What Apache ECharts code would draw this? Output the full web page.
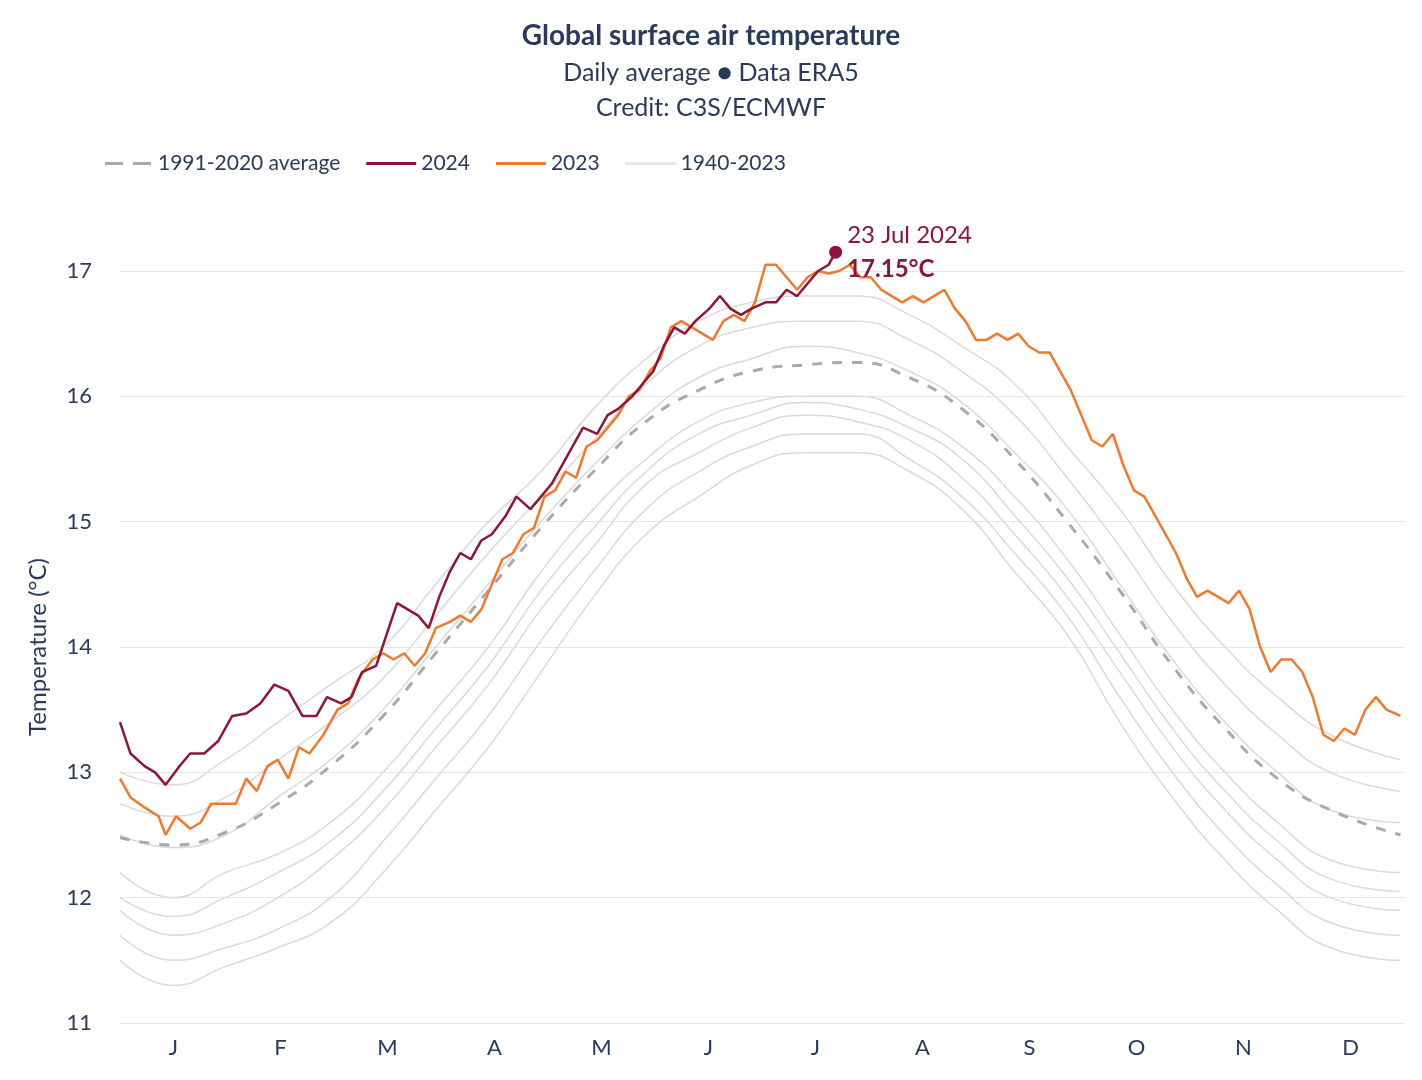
<!DOCTYPE html>
<html><head><meta charset="utf-8">
<script src="https://cdn.jsdelivr.net/npm/echarts@6/dist/echarts.min.js"></script>
<style>html,body{margin:0;padding:0;background:#fff}#c{width:1422px;height:1080px}</style>
</head><body><div id="c"></div>
<script>
const months = ['J','F','M','A','M','J','J','A','S','O','N','D'];
const yTicks = [11,12,13,14,15,16,17];
// [day of year, °C]
const y2024 = [[0,13.4],[3,13.15],[7,13.05],[10,13.0],[13,12.9],[17,13.05],[20,13.15],[24,13.15],[28,13.25],[32,13.45],[36,13.47],[40,13.55],[44,13.7],[48,13.65],[52,13.45],[56,13.45],[59,13.6],[63,13.55],[66,13.6],[69,13.8],[73,13.85],[76,14.1],[79,14.35],[82,14.3],[85,14.25],[88,14.15],[91,14.4],[94,14.6],[97,14.75],[100,14.7],[103,14.85],[106,14.9],[110,15.05],[113,15.2],[117,15.1],[120,15.2],[123,15.3],[126,15.45],[129,15.6],[132,15.75],[136,15.7],[139,15.85],[142,15.9],[146,16.0],[149,16.1],[152,16.2],[155,16.4],[158,16.55],[161,16.5],[164,16.6],[168,16.7],[171,16.8],[174,16.7],[177,16.65],[180,16.7],[184,16.75],[187,16.75],[190,16.85],[193,16.8],[196,16.9],[199,17.0],[202,17.05],[204,17.15]];
const y2023 = [[0,12.95],[3,12.8],[7,12.72],[11,12.65],[13,12.5],[16,12.65],[20,12.55],[23,12.6],[26,12.75],[30,12.75],[33,12.75],[36,12.95],[39,12.85],[42,13.05],[45,13.1],[48,12.95],[51,13.2],[54,13.15],[58,13.3],[62,13.5],[65,13.55],[68,13.75],[72,13.9],[75,13.95],[78,13.9],[81,13.95],[84,13.85],[87,13.95],[90,14.15],[94,14.2],[97,14.25],[100,14.2],[103,14.3],[106,14.5],[109,14.7],[112,14.75],[115,14.9],[118,14.95],[121,15.2],[124,15.25],[127,15.4],[130,15.35],[133,15.6],[136,15.65],[139,15.75],[142,15.85],[145,16.0],[148,16.05],[151,16.2],[154,16.3],[157,16.55],[160,16.6],[163,16.55],[166,16.5],[169,16.45],[172,16.6],[175,16.65],[178,16.6],[181,16.75],[184,17.05],[187,17.05],[190,16.95],[193,16.85],[196,16.95],[199,17.0],[202,16.98],[205,17.0],[208,17.05],[211,16.95],[214,16.95],[217,16.85],[220,16.8],[223,16.75],[226,16.8],[229,16.75],[232,16.8],[235,16.85],[238,16.7],[241,16.6],[244,16.45],[247,16.45],[250,16.5],[253,16.45],[256,16.5],[259,16.4],[262,16.35],[265,16.35],[268,16.2],[271,16.05],[274,15.85],[277,15.65],[280,15.6],[283,15.7],[286,15.45],[289,15.25],[292,15.2],[295,15.05],[298,14.9],[301,14.75],[304,14.55],[307,14.4],[310,14.45],[313,14.4],[316,14.35],[319,14.45],[322,14.3],[325,14.0],[328,13.8],[331,13.9],[334,13.9],[337,13.8],[340,13.6],[343,13.3],[346,13.25],[349,13.35],[352,13.3],[355,13.5],[358,13.6],[361,13.5],[365,13.45]];
const avg = [[0,12.48],[15,12.42],[30,12.52],[45,12.75],[60,13.05],[75,13.45],[90,13.95],[105,14.45],[120,14.95],[135,15.4],[150,15.8],[165,16.05],[180,16.2],[195,16.25],[210,16.27],[225,16.15],[240,15.9],[255,15.5],[270,15.0],[285,14.45],[300,13.85],[315,13.35],[330,12.95],[345,12.7],[365,12.5]];
const days = [0,15,30,45,60,75,90,105,120,135,150,165,180,195,210,225,240,255,270,285,300,315,330,345,365];
const grey1 = [11.5,11.3,11.45,11.6,11.8,12.2,12.7,13.2,13.8,14.4,14.9,15.2,15.45,15.55,15.55,15.4,15.1,14.6,14.1,13.4,12.8,12.3,11.9,11.6,11.5];
const grey2 = [13.0,12.9,13.1,13.4,13.7,14.0,14.5,15.0,15.4,15.9,16.3,16.6,16.75,16.8,16.8,16.65,16.4,16.1,15.6,15.1,14.5,14.0,13.6,13.3,13.1];
const grey3 = [11.9,11.7,11.8,12.0,12.3,12.7,13.2,13.7,14.3,14.8,15.3,15.55,15.75,15.85,15.8,15.65,15.35,14.9,14.4,13.8,13.2,12.7,12.3,12.0,11.9];
const grey4 = [12.2,12.0,12.2,12.35,12.6,13.0,13.5,14.0,14.6,15.1,15.5,15.8,15.95,16.0,16.0,15.85,15.6,15.2,14.7,14.1,13.5,13.0,12.6,12.3,12.2];
const grey5 = [12.5,12.4,12.5,12.8,13.1,13.5,14.0,14.5,15.0,15.45,15.85,16.15,16.3,16.4,16.35,16.2,15.95,15.55,15.1,14.5,13.9,13.4,13.0,12.7,12.6];
const grey6 = [11.7,11.5,11.6,11.75,12.0,12.45,12.95,13.45,14.05,14.6,15.1,15.4,15.6,15.7,15.7,15.5,15.2,14.75,14.25,13.6,13.0,12.5,12.1,11.8,11.7];
const grey7 = [12.0,11.85,12.0,12.2,12.45,12.85,13.35,13.85,14.45,14.95,15.4,15.7,15.85,15.95,15.9,15.75,15.5,15.05,14.55,13.95,13.35,12.85,12.45,12.15,12.05];
const grey8 = [12.75,12.65,12.8,13.1,13.4,13.75,14.25,14.75,15.2,15.65,16.1,16.4,16.55,16.6,16.6,16.45,16.2,15.85,15.35,14.8,14.2,13.7,13.3,13.0,12.85];
const greys = [grey1,grey2,grey3,grey4,grey5,grey6,grey7,grey8];
const txt = '#2a3a5a';
const greySeries = greys.map((g,i)=>({name:'1940-2023',type:'line',showSymbol:false,silent:true,z:1,smooth:true,
  lineStyle:{color:'#dadada',width:1.5},itemStyle:{color:'#e6e6e6'},data:g.map((v,j)=>[days[j],v])}));
const chart = echarts.init(document.getElementById('c'));
chart.setOption({
  animation:false,
  textStyle:{fontFamily:'Lato'},
  title:[{text:'Global surface air temperature',left:'center',top:17,textStyle:{fontFamily:'Lato',fontSize:28,fontWeight:'bold',color:txt}},
         {text:'Daily average ● Data ERA5\nCredit: C3S/ECMWF',left:'center',top:50,textStyle:{fontFamily:'Lato',fontSize:25,fontWeight:'normal',color:txt,lineHeight:35}}],
  legend:{left:100,top:148,itemWidth:50,itemHeight:3,itemGap:26,textStyle:{fontSize:21,color:txt},
    data:[{name:'1991-2020 average',icon:'path://M0,0H18V3H0ZM28,0H46V3H28Z'},{name:'2024',icon:'rect'},{name:'2023',icon:'rect'},{name:'1940-2023',icon:'rect'}]},
  grid:{left:120,right:18,top:271,bottom:57},
  xAxis:[{type:'value',min:0,max:366,show:false},
         {type:'category',data:months,position:'bottom',boundaryGap:true,axisLine:{show:false},axisTick:{show:false},
          axisLabel:{fontSize:22,color:txt,margin:14}}],
  yAxis:{type:'value',min:11,max:17,interval:1,name:'Temperature (°C)',nameLocation:'middle',nameGap:70,
    nameTextStyle:{fontSize:24,color:txt},axisLabel:{fontSize:22,color:txt,margin:28},
    splitLine:{lineStyle:{color:'#e6e6e6'}},axisLine:{show:false},axisTick:{show:false}},
  series:[...greySeries,
    {name:'1991-2020 average',type:'line',showSymbol:false,smooth:true,z:3,lineStyle:{color:'#aaaaaa',width:3,type:[10,10]},itemStyle:{color:'#aaaaaa'},data:avg},
    {name:'2023',type:'line',showSymbol:false,clip:false,z:4,lineStyle:{color:'#ee7a30',width:2.5},itemStyle:{color:'#ee7a30'},data:y2023},
    {name:'2024',type:'line',showSymbol:false,clip:false,z:5,lineStyle:{color:'#8c1538',width:2.5},itemStyle:{color:'#8c1538'},data:y2024},
    {name:'latest',type:'scatter',clip:false,z:6,symbolSize:13,itemStyle:{color:'#8c1538',opacity:1},data:[y2024[y2024.length-1]],
     label:{show:true,position:'right',formatter:'{a|23 Jul 2024}\n{b|17.15°C}',
       rich:{a:{fontSize:24,color:'#8c1538',lineHeight:34},b:{fontSize:24,fontWeight:'bold',color:'#8c1538',lineHeight:34}}}}
  ]
});
</script></body></html>
